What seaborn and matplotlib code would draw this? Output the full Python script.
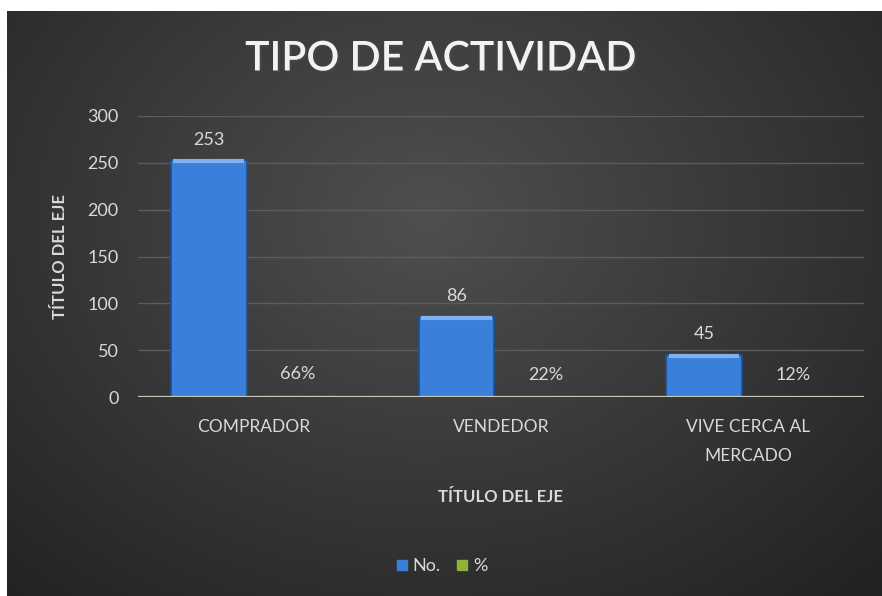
import matplotlib
matplotlib.use("Agg")
import matplotlib.pyplot as plt
import matplotlib.patheffects as pe
from matplotlib.lines import Line2D
import numpy as np
import pandas as pd
import seaborn as sns

# data
categories = ["COMPRADOR", "VENDEDOR", "VIVE CERCA AL\nMERCADO"]
count_values = [253, 86, 45]
pct_values = [0.66, 0.22, 0.12]
pct_labels = ["66%", "22%", "12%"]
series_names = ["No.", "%"]

TEXT = "#d9d9d9"
BLUE = "#3a80da"
GREEN = "#8db33a"

df = pd.DataFrame({
    "categoria": categories * 2,
    "valor": count_values + pct_values,
    "serie": [series_names[0]] * 3 + [series_names[1]] * 3,
})

sns.set_theme(style="dark")
plt.rcParams["font.family"] = ["Lato", "DejaVu Sans"]

fig = plt.figure(figsize=(8.82, 5.96), dpi=100, facecolor="white")

# dark radial background, with the white strip left and top like the screenshot
bg = fig.add_axes([7 / 882, 0, 1 - 7 / 882, 1 - 11 / 596])
yy, xx = np.mgrid[0:1:300j, 0:1:440j]
r = np.sqrt(((xx - 0.48) / 0.75) ** 2 + ((yy - 0.35) / 0.9) ** 2)
shade = np.clip(0.31 - 0.18 * r, 0.14, 0.31)
bg.imshow(np.dstack([shade, shade, shade]), aspect="auto", extent=[0, 1, 0, 1],
          origin="upper", interpolation="bilinear")
bg.set_axis_off()

ax = fig.add_axes([138 / 882, 1 - 397 / 596, (864 - 138) / 882, (397 - 116) / 596])
ax.patch.set_alpha(0)

sns.barplot(data=df, x="categoria", y="valor", hue="serie", ax=ax,
            palette=[BLUE, GREEN], saturation=1, width=0.72, gap=0.15,
            edgecolor="#1f4f90", linewidth=1.2, legend=False)

# light bevel along the top of each count bar
for bar in ax.containers[0]:
    x0, w, h = bar.get_x(), bar.get_width(), bar.get_height()
    ax.plot([x0 + 0.01, x0 + w - 0.01], [h - 1.2, h - 1.2], color="#7fb1ee",
            linewidth=3, solid_capstyle="butt", zorder=4)

ax.set_ylim(0, 300)
ax.set_yticks(range(0, 301, 50))
ax.grid(axis="y", color="#5c5c5c", linewidth=1.0)
ax.grid(axis="x", visible=False)
ax.axhline(0, color="#c8c8b8", linewidth=1.6, zorder=5)
for s in ax.spines.values():
    s.set_visible(False)

ax.bar_label(ax.containers[0], labels=[str(v) for v in count_values],
             padding=9, color=TEXT, fontsize=13)
ax.bar_label(ax.containers[1], labels=pct_labels,
             padding=10, color=TEXT, fontsize=13)

ax.tick_params(axis="y", colors=TEXT, labelsize=13, pad=14, length=0)
ax.tick_params(axis="x", colors=TEXT, labelsize=12.5, pad=16, length=0)
for lbl in ax.get_xticklabels():
    lbl.set_linespacing(2.0)
ax.set_xlabel("TÍTULO DEL EJE", color=TEXT, fontsize=12, fontweight="bold", labelpad=18)
ax.set_ylabel("TÍTULO DEL EJE", color=TEXT, fontsize=12, fontweight="bold", labelpad=14)

fig.text(0.5, 1 - 59 / 596, "TIPO DE ACTIVIDAD", ha="center", va="center",
         color="#f2f2f2", fontsize=29.5, fontweight="semibold",
         path_effects=[pe.withSimplePatchShadow(offset=(1.5, -1.5), alpha=0.6)])

handles = [Line2D([], [], marker="s", linestyle="", markersize=7,
                  markerfacecolor=c, markeredgecolor=c) for c in (BLUE, GREEN)]
leg = fig.legend(handles, series_names, loc="center", bbox_to_anchor=(0.5, 1 - 566 / 596),
                 ncol=2, frameon=False, fontsize=13, handletextpad=0.2,
                 columnspacing=0.8, handlelength=0.8)
for t in leg.get_texts():
    t.set_color(TEXT)

fig.savefig("out.png", dpi=100, facecolor="white")
